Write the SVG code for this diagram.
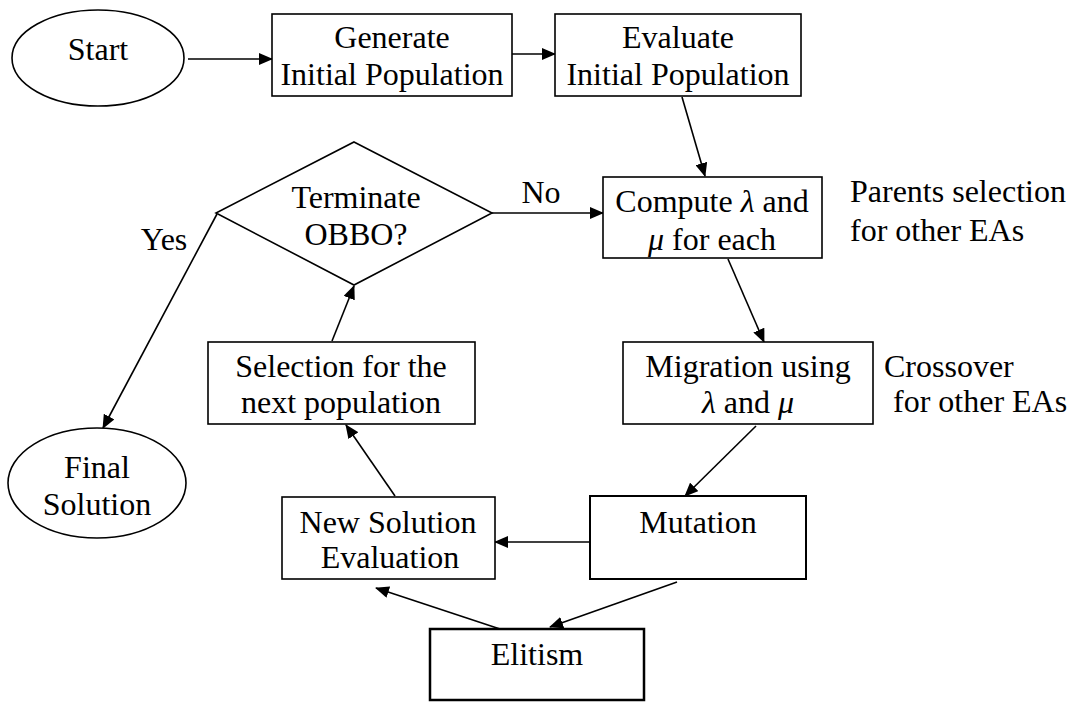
<svg xmlns="http://www.w3.org/2000/svg" width="1073" height="704" viewBox="0 0 1073 704">
<style>
text{font-family:"Liberation Serif","DejaVu Serif",serif;font-size:32px;fill:#000;text-anchor:middle}
.l{text-anchor:start}
.s{fill:#fff;stroke:#000;stroke-width:1.6}
.c line{stroke:#000;stroke-width:1.6}
.it{font-style:italic}
</style>
<defs>
<marker id="a" markerUnits="userSpaceOnUse" markerWidth="14" markerHeight="12" refX="13" refY="6" orient="auto">
<path d="M0,0 L14,6 L0,12 z" fill="#000"/>
</marker>
</defs>
<rect width="1073" height="704" fill="#fff"/>
<g class="c">
<line x1="188" y1="59" x2="272" y2="59" marker-end="url(#a)"/>
<line x1="512" y1="54" x2="555" y2="54" marker-end="url(#a)"/>
<line x1="682" y1="97" x2="705" y2="176" marker-end="url(#a)"/>
<line x1="492" y1="213" x2="603" y2="213" marker-end="url(#a)"/>
<line x1="217" y1="214" x2="103" y2="428" marker-end="url(#a)"/>
<line x1="728" y1="259" x2="764" y2="342" marker-end="url(#a)"/>
<line x1="756" y1="426" x2="685" y2="496" marker-end="url(#a)"/>
<line x1="590" y1="542" x2="495" y2="542" marker-end="url(#a)"/>
<line x1="677" y1="582" x2="550" y2="627" marker-end="url(#a)"/>
<line x1="500" y1="629" x2="376" y2="588" marker-end="url(#a)"/>
<line x1="395" y1="496" x2="346" y2="425" marker-end="url(#a)"/>
<line x1="332" y1="341" x2="354" y2="286" marker-end="url(#a)"/>
</g>
<g id="start"><ellipse class="s" cx="98" cy="58" rx="86" ry="48"/><text x="98" y="60">Start</text></g>
<g id="generate"><rect class="s" x="272" y="14" width="240" height="82"/><text x="392" y="48">Generate</text><text x="392" y="85">Initial Population</text></g>
<g id="evaluate"><rect class="s" x="555" y="14" width="246" height="82"/><text x="678" y="48">Evaluate</text><text x="678" y="85">Initial Population</text></g>
<g id="terminate"><polygon class="s" points="354,142 492,213 354,285 216,213"/><text x="356" y="208">Terminate</text><text x="356" y="245">OBBO?</text></g>
<g id="compute"><rect class="s" x="603" y="177" width="219" height="81"/><text x="712" y="212">Compute <tspan class="it">λ</tspan> and</text><text x="712" y="250"><tspan class="it">μ</tspan> for each</text></g>
<g id="selection"><rect class="s" x="208" y="342" width="267" height="82"/><text x="341" y="377">Selection for the</text><text x="341" y="413">next population</text></g>
<g id="migration"><rect class="s" x="623" y="342" width="250" height="82"/><text x="748" y="377">Migration using</text><text x="748" y="413"><tspan class="it">λ</tspan> and <tspan class="it">μ</tspan></text></g>
<g id="final"><ellipse class="s" cx="97" cy="483" rx="89" ry="55"/><text x="97" y="478">Final</text><text x="97" y="515">Solution</text></g>
<g id="newsol"><rect class="s" x="282" y="497" width="213" height="82"/><text x="388" y="533">New Solution</text><text x="390" y="568">Evaluation</text></g>
<g id="mutation"><rect class="s" x="590" y="496" width="216" height="83" style="stroke-width:2"/><text x="698" y="533">Mutation</text></g>
<g id="elitism"><rect class="s" x="430" y="629" width="214" height="71" style="stroke-width:2.5"/><text x="537" y="665">Elitism</text></g>
<g id="labels">
<text x="541" y="203">No</text>
<text x="164" y="250">Yes</text>
<text class="l" x="850" y="202">Parents selection</text>
<text class="l" x="850" y="241">for other EAs</text>
<text class="l" x="884" y="377">Crossover</text>
<text class="l" x="893" y="412">for other EAs</text>
</g>
</svg>
